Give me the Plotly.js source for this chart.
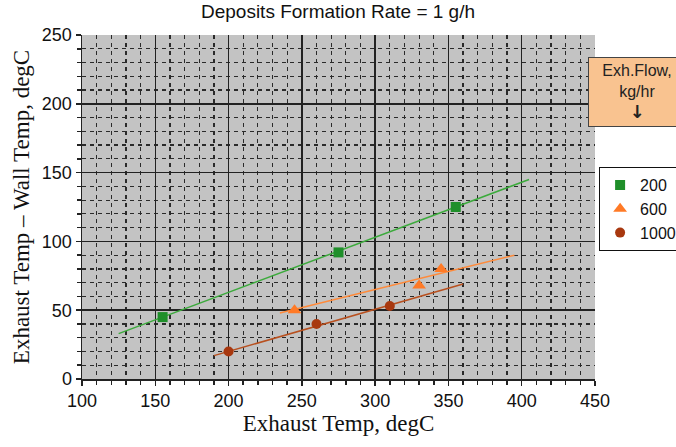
<!DOCTYPE html>
<html>
<head>
<meta charset="utf-8">
<script src="https://cdn.plot.ly/plotly-3.0.1.min.js"></script>
<style>html,body{margin:0;padding:0;background:#fff;}#chart{width:676px;height:447px;}</style>
</head>
<body>
<div id="chart"></div>
<script>
// Data
const seriesNames = ["200", "600", "1000"];
const x200 = [155, 275, 355];
const y200 = [45, 92, 125];
const x600 = [245, 330, 345];
const y600 = [50, 68, 80];
const x1000 = [200, 260, 310];
const y1000 = [20, 40, 53];
// trend line end points
const tx200 = [125, 405];
const ty200 = [33, 145];
const tx600 = [235, 395];
const ty600 = [48, 90];
const tx1000 = [190, 360];
const ty1000 = [17, 69];

const cGreen = "#1f8f2a", cGreenLine = "#3cab3c";
const cOrange = "#ff7a26", cOrangeLine = "#ff8a3a";
const cRed = "#a8380f", cRedLine = "#b8501f";

const traces = [
  {x: tx200, y: ty200, mode: "lines", line: {color: cGreenLine, width: 1.5}, showlegend: false, hoverinfo: "skip"},
  {x: tx600, y: ty600, mode: "lines", line: {color: cOrangeLine, width: 1.5}, showlegend: false, hoverinfo: "skip"},
  {x: tx1000, y: ty1000, mode: "lines", line: {color: cRedLine, width: 1.5}, showlegend: false, hoverinfo: "skip"},
  {x: x200, y: y200, name: seriesNames[0], mode: "markers", marker: {symbol: "square", size: 10, color: cGreen}},
  {x: x600, y: y600, name: seriesNames[1], mode: "markers", marker: {symbol: "triangle-up", size: 12, color: cOrange}},
  {x: x1000, y: y1000, name: seriesNames[2], mode: "markers", marker: {symbol: "circle", size: 10, color: cRed}}
];

const tickFont = {family: "Liberation Sans, Arial, sans-serif", size: 18, color: "#111"};
const axisCommon = {
  showline: true, linecolor: "#222", linewidth: 1.5,
  ticks: "outside", ticklen: 5, tickcolor: "#222", tickwidth: 1.5,
  showgrid: true, gridcolor: "#222", gridwidth: 1.5,
  zeroline: false, tickfont: tickFont,
  minor: {dtick: 10, showgrid: true, gridcolor: "#2a2a2a", gridwidth: 1.2, griddash: "4px,4px", ticks: "outside", ticklen: 4, tickcolor: "#222"}
};

const layout = {
  width: 676, height: 447,
  margin: {l: 82, r: 81, t: 35, b: 68, autoexpand: false},
  paper_bgcolor: "#ffffff",
  plot_bgcolor: "#c3c3c3",
  title: {text: "Deposits Formation Rate = 1 g/h", x: 0.5, xanchor: "center", y: 0.99, yanchor: "top",
          font: {family: "Liberation Sans, Arial, sans-serif", size: 19, color: "#111"}},
  xaxis: Object.assign({}, axisCommon, {
    range: [100, 450], dtick: 50, tick0: 100,
    title: {text: "Exhaust Temp, degC", standoff: 4, font: {family: "Liberation Serif, Times New Roman, serif", size: 23, color: "#111"}}
  }),
  yaxis: Object.assign({}, axisCommon, {
    range: [0, 250], dtick: 50,
    title: {text: "Exhaust Temp \u2013 Wall Temp, degC", standoff: 6, font: {family: "Liberation Serif, Times New Roman, serif", size: 23, color: "#111"}}
  }),
  legend: {
    x: 1.008, xanchor: "left", y: 0.616, yanchor: "top",
    bgcolor: "#ffffff", bordercolor: "#111", borderwidth: 1,
    font: {family: "Liberation Sans, Arial, sans-serif", size: 16, color: "#111"},
    itemwidth: 30, tracegroupgap: 0
  },
  annotations: [{
    xref: "paper", yref: "paper", x: 0.986, y: 0.936, xanchor: "left", yanchor: "top",
    text: "Exh.Flow,<br>kg/hr<br><span style='font-family:DejaVu Sans;font-size:18px;font-weight:bold'>\u2193</span>", showarrow: false, align: "center",
    bgcolor: "#f9c390", bordercolor: "#444", borderwidth: 1, borderpad: 2,
    width: 92, height: 64,
    font: {family: "Liberation Sans, Arial, sans-serif", size: 16, color: "#222"}
  }],
  showlegend: true
};

Plotly.newPlot("chart", traces, layout, {displayModeBar: false, staticPlot: true});
</script>
</body>
</html>
